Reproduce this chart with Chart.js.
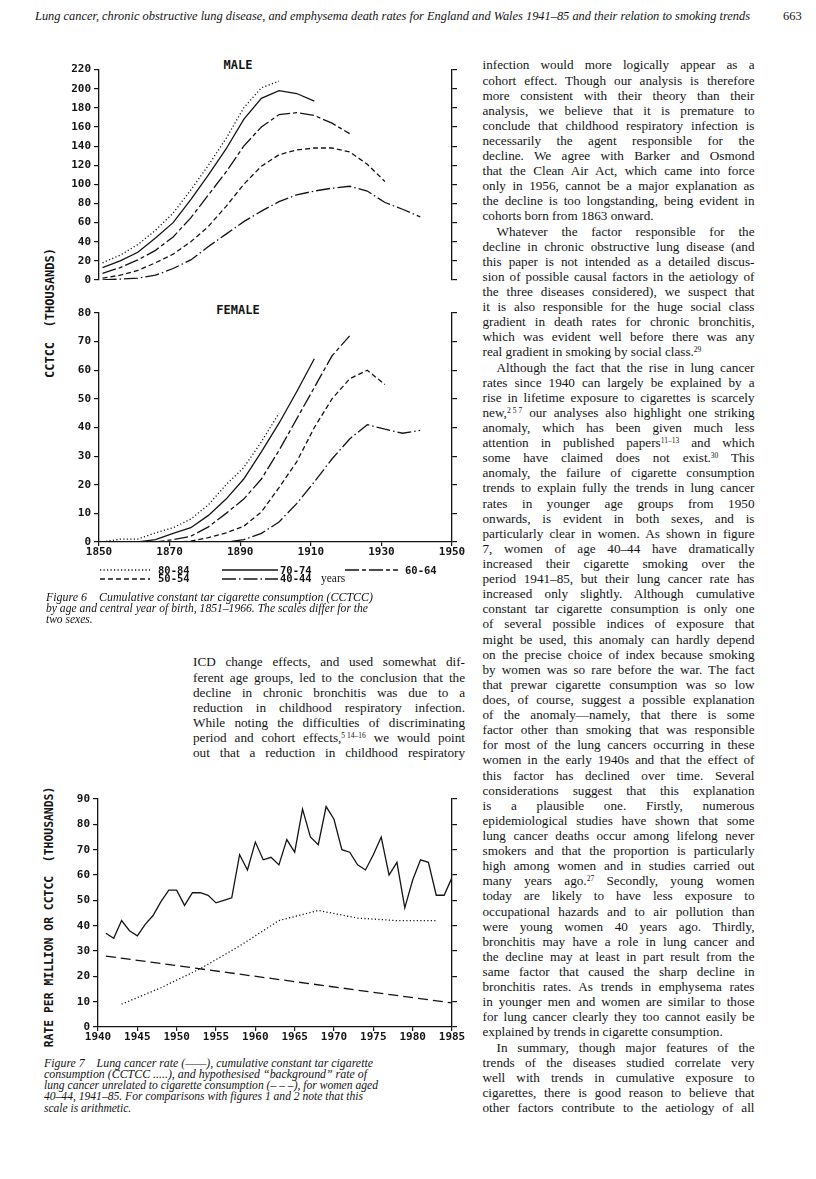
<!DOCTYPE html>
<html>
<head>
<meta charset="utf-8">
<script src="https://cdn.jsdelivr.net/npm/chart.js@4.4.0/dist/chart.umd.min.js"></script>
<style>
html, body { margin: 0; padding: 0; background: #fff; }
#page { position: relative; width: 816px; height: 1179px; overflow: hidden; color: #141414;
        font-family: "Liberation Serif", "Times New Roman", serif; }
.abs { position: absolute; white-space: nowrap; }
canvas { position: absolute; }
.mono { font-family: "DejaVu Sans Mono", monospace; font-weight: bold; }
.col { position: absolute; width: 272px; font-size: 13.2px; }
.col div { height: 15.12px; line-height: 15.12px; white-space: nowrap; text-align: justify; text-align-last: justify; }
.col div.end { text-align-last: left; }
.col div.ind { text-indent: 14px; }
sup { font-size: 7.5px; line-height: 0; vertical-align: 4px; }
sup i { font-style: normal; margin-left: 2px; }
.cap { font-style: italic; font-size: 11.5px; line-height: 12px; }
.ytitle { transform: translate(-50%, -50%) rotate(-90deg); }
</style>
</head>
<body>
<div id="page">
  <div class="abs fit" data-w="715" style="left:35px;top:9px;font-style:italic;font-size:12px;line-height:14px;">Lung cancer, chronic obstructive lung disease, and emphysema death rates for England and Wales 1941–85 and their relation to smoking trends</div>
  <div class="abs" style="left:783px;top:9px;font-size:12.5px;line-height:14px;">663</div>

  <!-- figure 6 -->
  <div class="abs mono ytitle" style="left:50px;top:313px;font-size:12px;">CCTCC&nbsp;&nbsp;(THOUSANDS)</div>
  <div class="abs mono" style="left:238px;top:65px;font-size:12px;transform:translate(-50%,-50%);">MALE</div>
  <div class="abs mono" style="left:238px;top:310px;font-size:12px;transform:translate(-50%,-50%);">FEMALE</div>
  <canvas id="male" width="470" height="245" style="left:0;top:60px;"></canvas>
  <canvas id="female" width="470" height="260" style="left:0;top:300px;"></canvas>
  <div id="legend6"></div>
  <div class="abs cap fit" data-w="327" style="left:46px;top:591px;">Figure 6&ensp;&ensp;Cumulative constant tar cigarette consumption (CCTCC)</div>
  <div class="abs cap fit" data-w="322" style="left:46px;top:602px;">by age and central year of birth, 1851–1966. The scales differ for the</div>
  <div class="abs cap" style="left:46px;top:613px;">two sexes.</div>

  <div class="col" id="leftCol" style="left:193px;top:654.4px;"></div>
  <div class="col" id="rightCol" style="left:482.5px;top:57.4px;"></div>

  <!-- figure 7 -->
  <div class="abs mono ytitle" style="left:49px;top:917px;font-size:11.4px;">RATE PER MILLION OR CCTCC&nbsp;&nbsp;(THOUSANDS)</div>
  <canvas id="fig7" width="470" height="260" style="left:0;top:785px;"></canvas>
  <div class="abs cap fit" data-w="329" style="left:44px;top:1057px;">Figure 7&ensp;&ensp;Lung cancer rate (——), cumulative constant tar cigarette</div>
  <div class="abs cap fit" data-w="323" style="left:44px;top:1068px;">consumption (CCTCC .....), and hypothesised “background” rate of</div>
  <div class="abs cap fit" data-w="334" style="left:44px;top:1079px;">lung cancer unrelated to cigarette consumption (– – –), for women aged</div>
  <div class="abs cap fit" data-w="319" style="left:44px;top:1090px;">40–44, 1941–85. For comparisons with figures 1 and 2 note that this</div>
  <div class="abs cap" style="left:44px;top:1102px;">scale is arithmetic.</div>
</div>

<script>
// figure 6: central year of birth, one point every 5 years
const birthYears = [1851, 1856, 1861, 1866, 1871, 1876, 1881, 1886, 1891, 1896, 1901, 1906, 1911, 1916, 1921, 1926, 1931, 1936, 1941];
const ageGroups = ['80-84', '70-74', '60-64', '50-54', '40-44'];

const male80 = [18, 26, 37, 52, 70, 94, 120, 148, 180, 201, 208];
const male70 = [13, 20, 29, 44, 60, 84, 110, 137, 168, 190, 198, 195, 187];
const male60 = [7, 13, 21, 31, 45, 65, 89, 113, 140, 160, 173, 175, 172, 164, 153];
const male50 = [2, 5, 10, 18, 27, 40, 56, 77, 100, 119, 131, 136, 138, 138, 134, 121, 103];
const male40 = [0, 1, 2, 5, 12, 21, 35, 48, 61, 72, 82, 89, 93, 96, 98, 93, 81, 74, 66];

const female80 = [0, 1, 1, 3.2, 5, 8, 13, 20, 26, 35, 45];
const female70 = [0, 0, 0, 0.8, 3, 5, 9.3, 15, 22, 31.5, 41.5, 52.5, 64];
const female60 = [0, 0, 0, 0, 0.8, 2, 5.3, 10, 15, 22, 32, 43, 54, 65, 72];
const female50 = [0, 0, 0, 0, 0, 0.3, 1.5, 3.2, 5.5, 10.5, 19, 28, 40, 50, 57, 60, 55];
const female40 = [0, 0, 0, 0, 0, 0, 0, 0, 0.8, 3, 7, 13.4, 21, 29, 36, 41, 39.4, 38, 39];

const maleTicks = { min: 0, max: 220, step: 20 };
const femaleTicks = { min: 0, max: 80, step: 10 };
const birthAxis = { min: 1850, max: 1950, step: 20 };

// figure 7: women aged 40-44, 1941-85
const periodYears = [1941, 1942, 1943, 1944, 1945, 1946, 1947, 1948, 1949, 1950,
                     1951, 1952, 1953, 1954, 1955, 1956, 1957, 1958, 1959, 1960,
                     1961, 1962, 1963, 1964, 1965, 1966, 1967, 1968, 1969, 1970,
                     1971, 1972, 1973, 1974, 1975, 1976, 1977, 1978, 1979, 1980,
                     1981, 1982, 1983, 1984, 1985];
const lungCancerRate = [37, 35, 42, 38, 36, 40.5, 44, 49.5, 54, 54,
                        48, 53, 53, 52, 49, 50, 51, 68, 62, 73,
                        66, 67, 64, 74, 69, 86, 75, 72, 87, 82,
                        70, 69, 64, 62, 68, 75, 60, 65, 47, 58,
                        66, 65, 52, 52, 59];
const cctccYears = [1943, 1948, 1953, 1958, 1963, 1968, 1973, 1978, 1983];
const cctcc = [9, 15.5, 23, 32, 42, 46, 43, 42, 42];
const backgroundYears = [1941, 1985];
const backgroundRate = [28, 9.5];
const periodAxis = { min: 1940, max: 1985, step: 5 };
const rateTicks = { min: 0, max: 90, step: 10 };

const ink = '#141414';
const dashes = { '80-84': [1.2, 2.3], '70-74': [], '60-64': [14, 3, 4, 3], '50-54': [5, 3], '40-44': [14, 3, 1.5, 3] };

Chart.defaults.font.family = '"DejaVu Sans Mono", monospace';
Chart.defaults.color = ink;

function pairs(xs, ys) {
    return ys.map((y, i) => ({ x: xs[i], y: y }));
}

function lineSet(label, xs, ys, dash) {
    return {
        label: label,
        data: pairs(xs, ys),
        borderColor: ink,
        borderWidth: 1.3,
        borderDash: dash,
        borderCapStyle: 'butt',
        pointRadius: 0,
        tension: 0,
        fill: false,
        yAxisID: 'y'
    };
}

function yAxis(t, position, width, labels) {
    return {
        type: 'linear', position: position, min: t.min, max: t.max,
        ticks: { stepSize: t.step, display: labels, padding: 3, font: { size: 11, weight: 'bold' } },
        grid: { drawOnChartArea: false, drawTicks: true, tickLength: 5, color: ink, lineWidth: 1.2 },
        border: { display: true, color: ink, width: 1.3 },
        afterFit: function (s) { s.width = width; }
    };
}

function xAxis(t, show) {
    return {
        type: 'linear', display: show, min: t.min, max: t.max,
        ticks: { stepSize: t.step, autoSkip: false, maxRotation: 0, padding: 0,
                 font: { size: 11, weight: 'bold' }, callback: v => String(v) },
        grid: { drawOnChartArea: false, drawTicks: true, tickLength: 4, color: ink, lineWidth: 1.2 },
        border: { display: true, color: ink, width: 1.3 },
        afterFit: function (s) { s.height = 18; }
    };
}

function makeChart(id, datasets, xT, yT, showX, leftW, pad) {
    new Chart(document.getElementById(id), {
        type: 'line',
        data: { datasets: datasets },
        options: {
            responsive: false,
            devicePixelRatio: 1,
            animation: false,
            layout: { padding: pad },
            plugins: { legend: { display: false }, tooltip: { enabled: false } },
            scales: {
                x: xAxis(xT, showX),
                y: yAxis(yT, 'left', leftW, true),
                y2: yAxis(yT, 'right', 18, false)
            }
        }
    });
}

const maleSeries = [male80, male70, male60, male50, male40];
const femaleSeries = [female80, female70, female60, female50, female40];

makeChart('male',
    ageGroups.map((g, i) => lineSet(g, birthYears, maleSeries[i], dashes[g])),
    birthAxis, maleTicks, false, 99, { top: 8, bottom: 7, left: 0, right: 0 });

makeChart('female',
    ageGroups.map((g, i) => lineSet(g, birthYears, femaleSeries[i], dashes[g])),
    birthAxis, femaleTicks, true, 99, { top: 13, bottom: 0, left: 0, right: 0 });

makeChart('fig7', [
    lineSet('Lung cancer rate', periodYears, lungCancerRate, []),
    lineSet('CCTCC', cctccYears, cctcc, [1.2, 2.3]),
    lineSet('Background rate', backgroundYears, backgroundRate, [10, 5])
], periodAxis, rateTicks, true, 98, { top: 14, bottom: 0, left: 0, right: 0 });

// figure 6 legend, two rows under the female panel
const legendSlots = [
    { x: 100, y: 570, w: 50, tx: 158 },
    { x: 222, y: 570, w: 56, tx: 280 },
    { x: 345, y: 570, w: 53, tx: 405 },
    { x: 100, y: 578.5, w: 50, tx: 158 },
    { x: 222, y: 578.5, w: 56, tx: 280 }
];
const legend = document.getElementById('legend6');
ageGroups.forEach((g, i) => {
    const s = legendSlots[i];
    const d = dashes[g].length ? dashes[g].join(' ') : 'none';
    legend.insertAdjacentHTML('beforeend',
        '<svg class="abs" style="left:' + s.x + 'px;top:' + (s.y - 2) + 'px" width="' + s.w + '" height="4">' +
        '<line x1="0" y1="2" x2="' + s.w + '" y2="2" stroke="' + ink + '" stroke-width="1.3" stroke-dasharray="' + d + '"/></svg>' +
        '<div class="abs mono" style="left:' + s.tx + 'px;top:' + (s.y - 6.5) + 'px;font-size:10.5px;line-height:13px;">' + g + '</div>');
});
legend.insertAdjacentHTML('beforeend',
    '<div class="abs" style="left:321px;top:571.5px;font-size:11.5px;line-height:13px;">years</div>');

// body text, set line by line; '>' = indent, '|' = paragraph end
const leftLines = [
    'ICD change effects, and used somewhat dif-',
    'ferent age groups, led to the conclusion that the',
    'decline in chronic bronchitis was due to a',
    'reduction in childhood respiratory infection.',
    'While noting the difficulties of discriminating',
    'period and cohort effects,<sup>5<i>14–16</i></sup> we would point',
    'out that a reduction in childhood respiratory'
];
const rightLines = [
    'infection would more logically appear as a',
    'cohort effect. Though our analysis is therefore',
    'more consistent with their theory than their',
    'analysis, we believe that it is premature to',
    'conclude that childhood respiratory infection is',
    'necessarily the agent responsible for the',
    'decline. We agree with Barker and Osmond',
    'that the Clean Air Act, which came into force',
    'only in 1956, cannot be a major explanation as',
    'the decline is too longstanding, being evident in',
    'cohorts born from 1863 onward.|',
    '>Whatever the factor responsible for the',
    'decline in chronic obstructive lung disease (and',
    'this paper is not intended as a detailed discus-',
    'sion of possible causal factors in the aetiology of',
    'the three diseases considered), we suspect that',
    'it is also responsible for the huge social class',
    'gradient in death rates for chronic bronchitis,',
    'which was evident well before there was any',
    'real gradient in smoking by social class.<sup>29</sup>|',
    '>Although the fact that the rise in lung cancer',
    'rates since 1940 can largely be explained by a',
    'rise in lifetime exposure to cigarettes is scarcely',
    'new,<sup>2<i>5</i><i>7</i></sup> our analyses also highlight one striking',
    'anomaly, which has been given much less',
    'attention in published papers<sup>11–13</sup> and which',
    'some have claimed does not exist.<sup>30</sup> This',
    'anomaly, the failure of cigarette consumption',
    'trends to explain fully the trends in lung cancer',
    'rates in younger age groups from 1950',
    'onwards, is evident in both sexes, and is',
    'particularly clear in women. As shown in figure',
    '7, women of age 40–44 have dramatically',
    'increased their cigarette smoking over the',
    'period 1941–85, but their lung cancer rate has',
    'increased only slightly. Although cumulative',
    'constant tar cigarette consumption is only one',
    'of several possible indices of exposure that',
    'might be used, this anomaly can hardly depend',
    'on the precise choice of index because smoking',
    'by women was so rare before the war. The fact',
    'that prewar cigarette consumption was so low',
    'does, of course, suggest a possible explanation',
    'of the anomaly—namely, that there is some',
    'factor other than smoking that was responsible',
    'for most of the lung cancers occurring in these',
    'women in the early 1940s and that the effect of',
    'this factor has declined over time. Several',
    'considerations suggest that this explanation',
    'is a plausible one. Firstly, numerous',
    'epidemiological studies have shown that some',
    'lung cancer deaths occur among lifelong never',
    'smokers and that the proportion is particularly',
    'high among women and in studies carried out',
    'many years ago.<sup>27</sup> Secondly, young women',
    'today are likely to have less exposure to',
    'occupational hazards and to air pollution than',
    'were young women 40 years ago. Thirdly,',
    'bronchitis may have a role in lung cancer and',
    'the decline may at least in part result from the',
    'same factor that caused the sharp decline in',
    'bronchitis rates. As trends in emphysema rates',
    'in younger men and women are similar to those',
    'for lung cancer clearly they too cannot easily be',
    'explained by trends in cigarette consumption.|',
    '>In summary, though major features of the',
    'trends of the diseases studied correlate very',
    'well with trends in cumulative exposure to',
    'cigarettes, there is good reason to believe that',
    'other factors contribute to the aetiology of all'
];

function fillColumn(id, lines) {
    const col = document.getElementById(id);
    lines.forEach(line => {
        const cls = [];
        if (line.startsWith('>')) { cls.push('ind'); line = line.slice(1); }
        if (line.endsWith('|')) { cls.push('end'); line = line.slice(0, -1); }
        col.insertAdjacentHTML('beforeend', '<div class="' + cls.join(' ') + '">' + line + '</div>');
    });
}
fillColumn('leftCol', leftLines);
fillColumn('rightCol', rightLines);

// squeeze or stretch single lines to the measured width
document.querySelectorAll('.fit').forEach(el => {
    const target = parseFloat(el.dataset.w);
    const natural = el.getBoundingClientRect().width;
    el.style.transformOrigin = 'left center';
    el.style.transform = 'scaleX(' + (target / natural) + ')';
});
</script>
</body>
</html>
